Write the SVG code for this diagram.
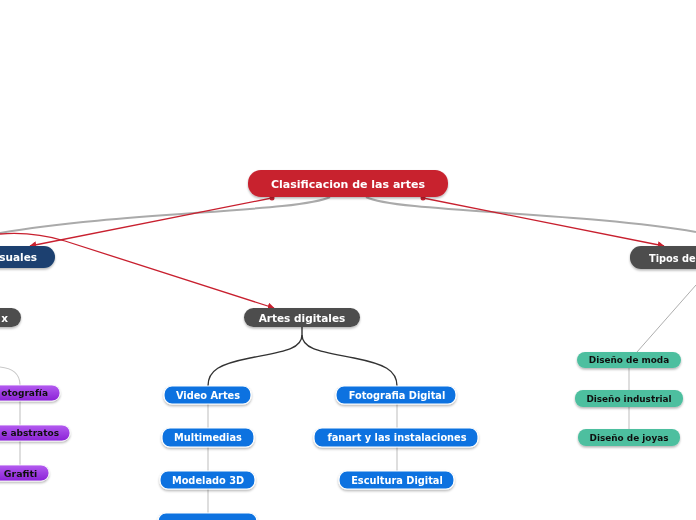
<svg xmlns="http://www.w3.org/2000/svg" width="696" height="520" viewBox="0 0 696 520">
<defs>
<marker id="ar" viewBox="0 0 10 10" refX="9" refY="5" markerWidth="7" markerHeight="7" orient="auto-start-reverse" markerUnits="userSpaceOnUse">
<path d="M0,0 L10,5 L0,10 z" fill="#c8202f"/>
</marker>
<filter id="sh" x="-10%" y="-30%" width="120%" height="170%">
<feDropShadow dx="0" dy="1.5" stdDeviation="1" flood-color="#000" flood-opacity="0.3"/>
</filter>
<linearGradient id="pg" x1="0" y1="0" x2="0" y2="1">
<stop offset="0" stop-color="#b45cf0"/>
<stop offset="1" stop-color="#8a22d6"/>
</linearGradient>
</defs>
<style>
text{font-family:"DejaVu Sans","Liberation Sans",sans-serif;font-weight:bold;text-anchor:middle;dominant-baseline:central}
.w{fill:#fff}
.k{fill:#111}
.root{fill:#c8202f}
.dark{fill:#4d4d4d}
.navy{fill:#1b4170}
.blue{fill:#0b72e0;stroke:#fff;stroke-width:1.2}
.green{fill:#4dbf9f}
.purple{fill:url(#pg);stroke:#fff;stroke-width:0.8}
.gl{fill:none;stroke:#c8c8c8;stroke-width:1.2}
.red{fill:none;stroke:#c8202f;stroke-width:1.3}
</style>
<g id="connectors">
<path d="M330,197 C300,212 120,212 0,233" fill="none" stroke="#aaa" stroke-width="2"/>
<path d="M366,197 C395,212 580,212 696,232" fill="none" stroke="#aaa" stroke-width="2"/>
<path class="red" d="M272,198 L30,246" marker-end="url(#ar)"/>
<circle cx="272" cy="198" r="2.5" fill="#c8202f"/>
<path class="red" d="M423,198 L664,246" marker-end="url(#ar)"/>
<circle cx="423" cy="198" r="2.5" fill="#c8202f"/>
<path class="red" d="M0,234 C25,232 45,235 65,241 L274,308" marker-end="url(#ar)"/>
<path d="M302,327 L302,335 C302,350 280,352 250,358 C220,364 208,370 208,386" fill="none" stroke="#333" stroke-width="1.4"/>
<path d="M302,335 C302,350 324,352 354,358 C384,364 397,370 397,386" fill="none" stroke="#333" stroke-width="1.4"/>
<path class="gl" d="M208,404 V428 M208,447 V471 M208,489 V513"/>
<path class="gl" d="M397,404 V428 M397,447 V471"/>
<path d="M696,285 L637,352" fill="none" stroke="#999" stroke-width="0.8"/>
<path class="gl" d="M629,368 V429"/>
<path class="gl" d="M0,367 C12,368 20,374 20,385 V465"/>
</g>
<g id="n-root" filter="url(#sh)"><rect class="root" x="248" y="170" width="200" height="27" rx="13"/><text class="w" x="348" y="184" font-size="11">Clasificacion de las artes</text></g>
<g id="n-visuales" filter="url(#sh)"><rect class="navy" x="-60" y="246" width="115" height="22" rx="11"/><text class="w" x="37" y="257" font-size="10.5" style="text-anchor:end">suales</text></g>
<g id="n-tipos" filter="url(#sh)"><rect class="dark" x="630" y="246" width="120" height="23" rx="11"/><text class="w" x="649" y="258" font-size="9.8" style="text-anchor:start">Tipos de</text></g>
<g id="n-x" filter="url(#sh)"><rect class="dark" x="-60" y="308" width="81" height="19" rx="9.5"/><text class="w" x="8" y="318" font-size="10.5" style="text-anchor:end">x</text></g>
<g id="n-digitales" filter="url(#sh)"><rect class="dark" x="244" y="308" width="116" height="19" rx="9.5"/><text class="w" x="302" y="318" font-size="10.5">Artes digitales</text></g>
<g id="n-video" filter="url(#sh)"><rect class="blue" x="164" y="386" width="87" height="18" rx="8"/><text class="w" x="208" y="395" font-size="9.8">Video Artes</text></g>
<g id="n-multi" filter="url(#sh)"><rect class="blue" x="162" y="428" width="92" height="19" rx="8"/><text class="w" x="208" y="437.5" font-size="9.8">Multimedias</text></g>
<g id="n-modelado" filter="url(#sh)"><rect class="blue" x="160" y="471" width="95" height="18" rx="8"/><text class="w" x="208" y="480" font-size="9.8">Modelado 3D</text></g>
<g id="n-bottom" filter="url(#sh)"><rect class="blue" x="158" y="513" width="99" height="19" rx="8"/></g>
<g id="n-foto" filter="url(#sh)"><rect class="blue" x="336" y="386" width="120" height="18" rx="8"/><text class="w" x="397" y="395" font-size="9.8">Fotografia Digital</text></g>
<g id="n-fanart" filter="url(#sh)"><rect class="blue" x="314" y="428" width="164" height="19" rx="8"/><text class="w" x="397" y="437.5" font-size="9.8">fanart y las instalaciones</text></g>
<g id="n-escultura" filter="url(#sh)"><rect class="blue" x="339" y="471" width="115" height="18" rx="8"/><text class="w" x="397" y="480" font-size="9.8">Escultura Digital</text></g>
<g id="n-moda" filter="url(#sh)"><rect class="green" x="577" y="352" width="104" height="16" rx="8"/><text class="k" x="629" y="360" font-size="8.9">Diseño de moda</text></g>
<g id="n-industrial" filter="url(#sh)"><rect class="green" x="575" y="390" width="108" height="17" rx="8"/><text class="k" x="629" y="398.5" font-size="8.9">Diseño industrial</text></g>
<g id="n-joyas" filter="url(#sh)"><rect class="green" x="578" y="429" width="102" height="17" rx="8"/><text class="k" x="629" y="437.5" font-size="8.9">Diseño de joyas</text></g>
<g id="n-fotografia" filter="url(#sh)"><rect class="purple" x="-60" y="385" width="120" height="16" rx="8"/><text class="k" x="48" y="393" font-size="9" style="text-anchor:end">otografía</text></g>
<g id="n-abstratos" filter="url(#sh)"><rect class="purple" x="-60" y="425" width="130" height="16" rx="8"/><text class="k" x="59" y="433" font-size="9" style="text-anchor:end">e abstratos</text></g>
<g id="n-grafiti" filter="url(#sh)"><rect class="purple" x="-60" y="465" width="109" height="16" rx="8"/><text class="k" x="20.5" y="473" font-size="9.4">Grafiti</text></g>
</svg>
